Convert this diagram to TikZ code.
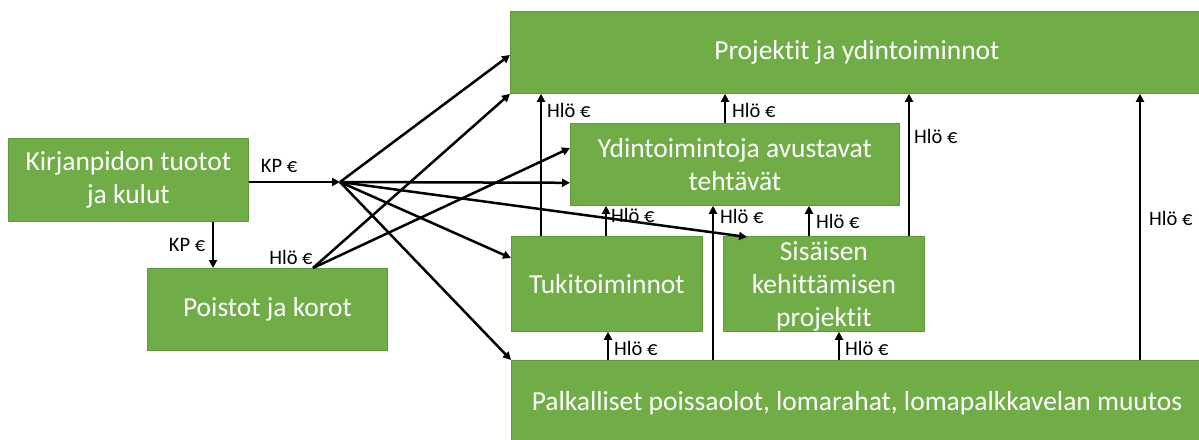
\documentclass[tikz,border=0pt]{standalone}
\usepackage{fontspec}
\setmainfont[Ligatures=NoCommon]{Carlito}
\usetikzlibrary{arrows.meta,calc}
\definecolor{boxgreen}{HTML}{70AD47}
\definecolor{boxedge}{HTML}{5E9A3A}
\tikzset{
  boxfont/.style={font=\fontsize{27.5}{33}\selectfont},
  box/.style={fill=boxgreen, draw=boxedge, line width=0.8pt, text=white, align=center,
    boxfont, anchor=north west, inner sep=0pt},
  arr/.style={line width=2.5pt, -{Triangle[length=8pt,width=8pt]}},
  lbl/.style={font=\fontsize{20.5}{22}\selectfont, text=black, inner sep=0pt}
}
\begin{document}
\begin{tikzpicture}[x=1pt,y=-1pt]
\useasboundingbox (0,0) rectangle (1199,439);
\begin{scope}
\clip (0,0) rectangle (1199,439);
\node[box, minimum width=240pt, minimum height=83pt] (kp) at (8,138) {Kirjanpidon tuotot\\ja kulut};
\node[box, minimum width=240pt, minimum height=82pt] (poi) at (147,268) {Poistot ja korot};
\node[box, minimum width=693pt, minimum height=82pt] (proj) at (510,11) {Projektit ja ydintoiminnot};
\node[box, minimum width=329pt, minimum height=82pt] (ydin) at (570,123) {Ydintoimintoja avustavat\\tehtävät};
\node[box, minimum width=191pt, minimum height=95pt] (tuki) at (511,236) {Tukitoiminnot};
\node[box, minimum width=201pt, minimum height=95pt] (sis) at (723,236) {};
\node[text=white, align=center, boxfont, inner sep=0pt] (sistxt) at ($(sis.center)+(0,2)$) {Sisäisen\\kehittämisen\\projektit};
\node[box, minimum width=692pt, minimum height=90pt] (palk) at (511,360) {};
\node[text=white, boxfont, inner sep=0pt] (palktxt) at (857,403) {Palkalliset poissaolot, lomarahat, lomapalkkavelan muutos};
\end{scope}

\coordinate (fan) at (340,182);
\coordinate (xa) at (541,0);
\coordinate (xb) at (725,0);
\coordinate (xc) at (606,0);
\coordinate (xd) at (713,0);
\coordinate (xe) at (809,0);
\coordinate (xf) at (909,0);
\coordinate (xg) at (1140,0);
\coordinate (xh) at (608,0);
\coordinate (xi) at (839,0);
\coordinate (xk) at (213,0);

% from Kirjanpidon
\draw[arr] (kp.east |- fan) -- (fan);
\draw[arr] (xk |- kp.south) -- (xk |- poi.north);
\node[lbl] (l1) at (279,166) {KP €};
\node[lbl] (l2) at (187,245) {KP €};

% fan
\draw[arr] (fan) -- ($(proj.north west)+(0,44)$);
\draw[arr] (fan) -- ($(ydin.south west)+(0,-23)$);
\draw[arr] (fan) -- ($(sis.north west)+(24,1)$);
\draw[arr] (fan) -- ($(tuki.north west)+(0,22)$);
\draw[arr] (fan) -- (palk.north west);

% from Poistot
\coordinate (ps) at ($(poi.north west)+(166,0)$);
\draw[arr] (ps) -- (proj.south west);
\draw[arr] (ps) -- ($(ydin.north west)+(0,25)$);
\node[lbl] (l3) at (291,257) {Hlö €};

% vertical arrows
\draw[arr] (xa |- tuki.north) -- (xa |- proj.south);
\draw[arr] (xb |- ydin.north) -- (xb |- proj.south);
\draw[arr] (xc |- tuki.north) -- (xc |- ydin.south);
\draw[arr] (xd |- palk.north) -- (xd |- ydin.south);
\draw[arr] (xe |- sis.north) -- (xe |- ydin.south);
\draw[arr] (xf |- sis.north) -- (xf |- proj.south);
\draw[arr] (xg |- palk.north) -- (xg |- proj.south);
\draw[arr] (xh |- palk.north) -- (xh |- tuki.south);
\draw[arr] (xi |- palk.north) -- (xi |- sis.south);

\node[lbl, anchor=west] (l4) at (547,110) {Hlö €};
\node[lbl, anchor=west] (l5) at (732,110) {Hlö €};
\node[lbl, anchor=west] (l6) at (611,215) {Hlö €};
\node[lbl, anchor=west] (l7) at (720,216) {Hlö €};
\node[lbl, anchor=west] (l8) at (816,221) {Hlö €};
\node[lbl, anchor=west] (l9) at (914,136) {Hlö €};
\node[lbl, anchor=west] (l10) at (1149,218) {Hlö €};
\node[lbl, anchor=west] (l11) at (614,348) {Hlö €};
\node[lbl, anchor=west] (l12) at (845,348) {Hlö €};
\end{tikzpicture}
\end{document}
